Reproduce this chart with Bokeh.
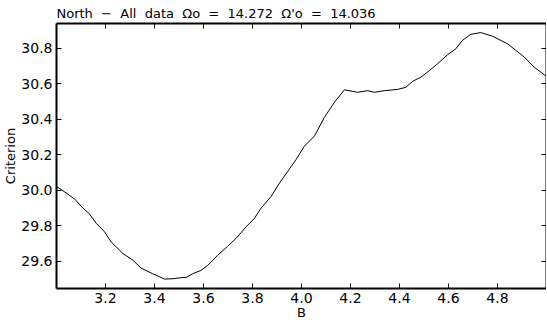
from bokeh.plotting import figure
from bokeh.models import LinearAxis, FixedTicker, Range1d, NumeralTickFormatter, CustomJSTickFormatter
from bokeh.embed import file_html
from bokeh.resources import INLINE

# Data
b_values = [3.000, 3.040, 3.074, 3.108, 3.135, 3.162, 3.196, 3.223, 3.271, 3.312,
            3.345, 3.393, 3.441, 3.475, 3.509, 3.529, 3.556, 3.590, 3.617, 3.658,
            3.699, 3.733, 3.774, 3.808, 3.835, 3.876, 3.910, 3.944, 3.978, 4.012,
            4.053, 4.093, 4.134, 4.175, 4.229, 4.270, 4.297, 4.338, 4.392, 4.426,
            4.454, 4.487, 4.522, 4.555, 4.596, 4.630, 4.657, 4.691, 4.732, 4.780,
            4.841, 4.909, 4.950, 5.000]
criterion = [30.021, 29.984, 29.950, 29.899, 29.866, 29.814, 29.766, 29.709, 29.644, 29.606,
             29.562, 29.530, 29.500, 29.502, 29.508, 29.509, 29.530, 29.549, 29.577, 29.634,
             29.685, 29.729, 29.794, 29.842, 29.899, 29.965, 30.040, 30.106, 30.173, 30.248,
             30.305, 30.409, 30.494, 30.565, 30.551, 30.560, 30.551, 30.560, 30.567, 30.579,
             30.613, 30.636, 30.673, 30.711, 30.762, 30.796, 30.843, 30.877, 30.887, 30.866,
             30.824, 30.749, 30.692, 30.640]
x_ticks = [3.2, 3.4, 3.6, 3.8, 4.0, 4.2, 4.4, 4.6, 4.8]
y_ticks = [29.6, 29.8, 30.0, 30.2, 30.4, 30.6, 30.8]
S = "\u00a0\u00a0"
title_text = f"North{S}\u2212{S}All{S}data{S}\u03a9o{S}={S}14.272{S}\u03a9'o{S}={S}14.036"

FONT = "DejaVu Sans"

p = figure(width=546, height=322, output_backend="svg", toolbar_location=None,
           x_range=Range1d(3.0, 5.0), y_range=Range1d(29.447, 30.938),
           x_axis_label="B", y_axis_label="Criterion",
           min_border_left=0, min_border_right=0, min_border_top=0, min_border_bottom=0)
p.outline_line_color = None
p.xgrid.visible = False
p.ygrid.visible = False

p.title.text = title_text
p.title.text_font = FONT
p.title.text_font_size = "13px"
p.title.text_font_style = "normal"
p.title.text_color = "black"
p.title.offset = 0
p.title.standoff = 6

def style(ax, ticks, labels=True):
    ax.ticker = FixedTicker(ticks=ticks)
    ax.major_tick_in = 5
    ax.major_tick_out = 0
    ax.minor_tick_in = 0
    ax.minor_tick_out = 0
    ax.axis_line_width = 2
    ax.axis_line_color = "black"
    ax.major_tick_line_color = "black"
    ax.major_tick_line_width = 1
    if labels:
        ax.major_label_text_font = FONT
        ax.major_label_text_font_size = "14px"
        ax.major_label_text_color = "black"
        ax.axis_label_text_font = FONT
        ax.axis_label_text_font_size = "13px"
        ax.axis_label_text_font_style = "normal"
        ax.axis_label_text_color = "black"
    else:
        ax.formatter = CustomJSTickFormatter(code="return ''")
        ax.major_label_text_font_size = "0px"
        ax.major_label_standoff = 0

xa = p.xaxis[0]
style(xa, x_ticks)
xa.formatter = NumeralTickFormatter(format="0.0")
xa.major_label_standoff = 4
xa.axis_label_standoff = -1

ya = p.yaxis[0]
style(ya, y_ticks)
ya.formatter = NumeralTickFormatter(format="0.0")
ya.major_label_standoff = 4
ya.axis_label_standoff = 0

top = LinearAxis()
style(top, x_ticks, labels=False)
p.add_layout(top, "above")
right = LinearAxis()
style(right, y_ticks, labels=False)
p.add_layout(right, "right")

p.line(b_values, criterion, line_color="black", line_width=1)

open("out.html", "w").write(file_html(p, INLINE))
